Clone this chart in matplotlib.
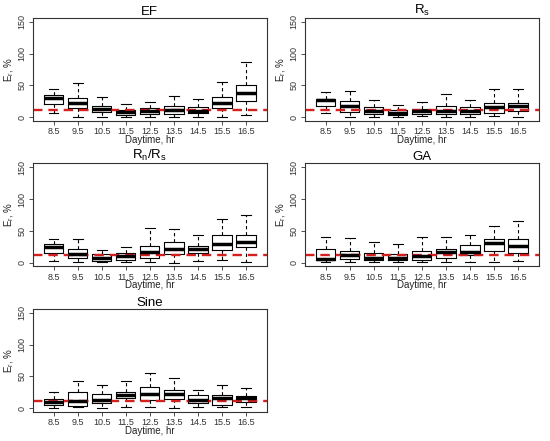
import matplotlib
matplotlib.use("Agg")
import matplotlib.pyplot as plt

plt.rcParams['font.family'] = ['Liberation Sans', 'DejaVu Sans']

hours = ['8.5', '9.5', '10.5', '11.5', '12.5', '13.5', '14.5', '15.5', '16.5']
threshold = 12

# per method: whisker low, q1, median, q3, whisker high for each hour
ef_lo = [7, 1, 1, 0.5, 1, 1, 1, 1, 4]
ef_q1 = [21, 14, 8, 4, 5, 5, 6, 15, 25]
ef_med = [30, 22, 13, 8, 9, 11, 10, 23, 38]
ef_q3 = [35, 30, 17, 11, 15, 17, 16, 32, 50]
ef_hi = [44, 53, 31, 20, 24, 33, 28, 56, 87]

rs_lo = [6, 1, 1, 0, 1.5, 1, 1, 1.5, 1]
rs_q1 = [17, 8, 5, 4, 5, 5, 5, 7, 10]
rs_med = [27, 17, 10, 6, 10, 10, 10, 16, 17]
rs_q3 = [29, 25, 16, 11, 13, 17, 16, 22, 23]
rs_hi = [40, 41, 27, 19, 24, 36, 27, 44, 44]

rnrs_lo = [3, 1.5, 1, 1.5, 1.5, 0, 3, 4, 1.5]
rnrs_q1 = [15, 7, 3, 5, 8, 13, 15, 20, 24]
rnrs_med = [24, 13, 7, 10, 17, 21, 21, 30, 32]
rnrs_q3 = [29, 21, 13, 15, 27, 33, 27, 44, 44]
rnrs_hi = [37, 38, 20, 25, 55, 53, 43, 69, 75]

ga_lo = [1, 1, 1, 1, 1, 1, 1, 1, 3]
ga_q1 = [4, 6, 4, 4, 5, 7, 12, 19, 16]
ga_med = [6, 12, 8, 8, 11, 17, 17, 31, 27]
ga_q3 = [22, 18, 16, 14, 19, 22, 28, 38, 37]
ga_hi = [40, 39, 32, 29, 41, 41, 44, 58, 65]

sine_lo = [0, 1.5, 0, 1.5, 1.5, 1, 1.5, 1.5, 1.5]
sine_q1 = [5, 4, 8, 16, 13, 14, 8, 5, 9]
sine_med = [9, 11, 13, 21, 22, 23, 13, 16, 16]
sine_q3 = [14, 25, 22, 26, 33, 29, 21, 20, 19]
sine_hi = [25, 43, 37, 42, 55, 48, 29, 37, 32]

panels = [
    ('EF', ef_lo, ef_q1, ef_med, ef_q3, ef_hi),
    ('R$_\\mathregular{s}$', rs_lo, rs_q1, rs_med, rs_q3, rs_hi),
    ('R$_\\mathregular{n}$/R$_\\mathregular{s}$', rnrs_lo, rnrs_q1, rnrs_med, rnrs_q3, rnrs_hi),
    ('GA', ga_lo, ga_q1, ga_med, ga_q3, ga_hi),
    ('Sine', sine_lo, sine_q1, sine_med, sine_q3, sine_hi),
]

fig = plt.figure(figsize=(5.5, 4.41), dpi=100)
lefts = [0.060, 0.5545]
bottoms = [0.7256, 0.3957, 0.0658]

for k, (title, lo, q1, med, q3, hi) in enumerate(panels):
    r, c = divmod(k, 2)
    ax = fig.add_axes([lefts[c], bottoms[r], 0.425, 0.2336])
    stats = []
    for i in range(len(hours)):
        stats.append({'whislo': lo[i], 'q1': q1[i], 'med': med[i],
                      'q3': q3[i], 'whishi': hi[i], 'fliers': []})
    ax.bxp(stats, positions=range(1, len(hours) + 1), widths=0.8,
           capwidths=0.4, showfliers=False,
           boxprops=dict(color='black', linewidth=0.8),
           whiskerprops=dict(color='black', linewidth=0.8, linestyle=(0, (3, 2.5))),
           capprops=dict(color='black', linewidth=0.8),
           medianprops=dict(color='black', linewidth=2.5, solid_capstyle='butt'))
    ax.axhline(threshold, color='#d62020', linestyle=(0, (4, 2.5)), linewidth=1.7)
    ax.set_xlim(0.14, 9.86)
    ax.set_ylim(-6, 156)
    ax.set_xticks(range(1, len(hours) + 1))
    ax.set_xticklabels(hours, fontsize=6.5)
    ax.set_yticks([0, 50, 100, 150])
    ax.set_yticklabels(['0', '50', '100', '150'], fontsize=6.5, rotation=90, va='center')
    ax.tick_params(length=3, width=0.6, pad=1.5, colors='#333333', labelcolor='#333333')
    ax.set_xlabel('Daytime, hr', fontsize=7, labelpad=-1, color='#222222')
    ax.set_ylabel('E$_\\mathregular{r}$, %', fontsize=7, labelpad=1, color='#222222')
    ax.set_title(title, fontsize=9.5, pad=1)
    for s in ax.spines.values():
        s.set_linewidth(0.8)
        s.set_color('#333333')

fig.savefig('out.png', dpi=100)
